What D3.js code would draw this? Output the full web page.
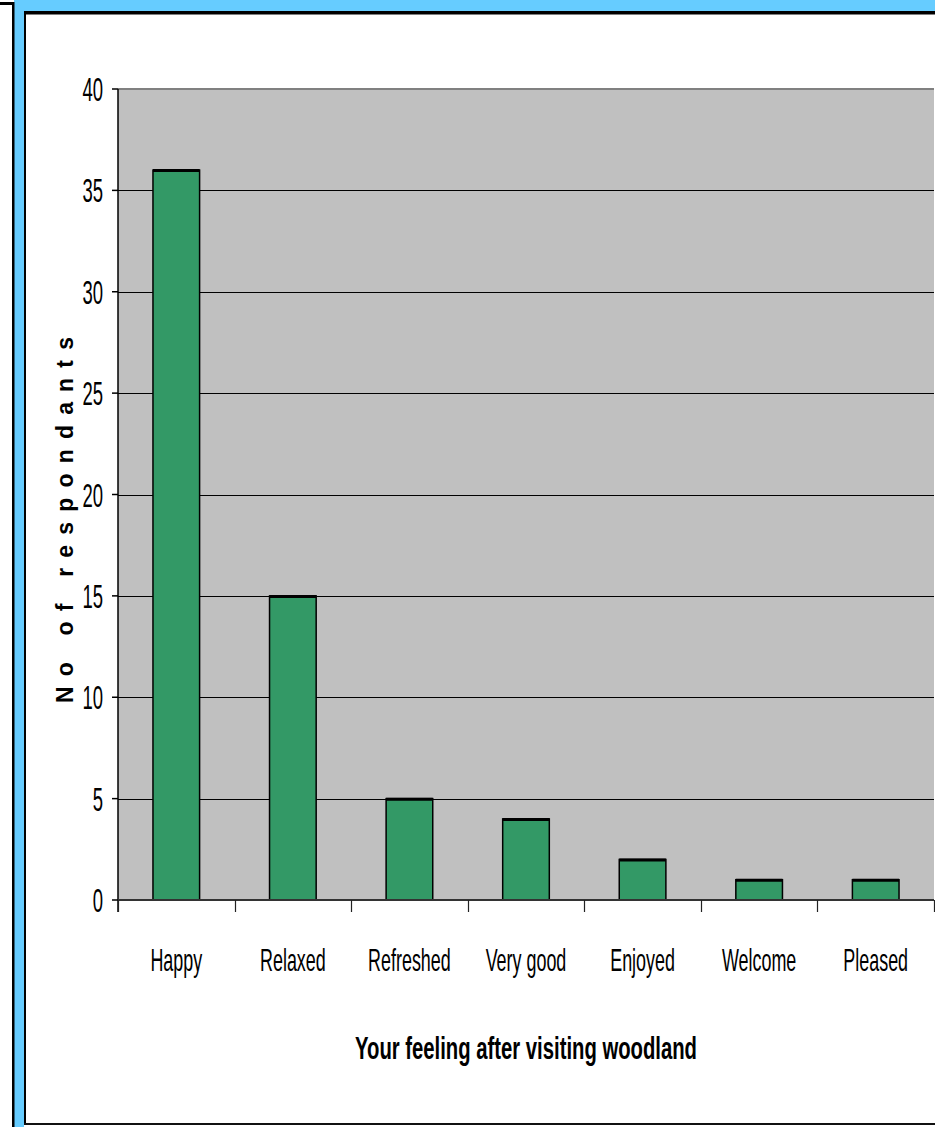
<!DOCTYPE html>
<html>
<head>
<meta charset="utf-8">
<script src="https://cdn.jsdelivr.net/npm/d3@7"></script>
<style>
  html, body { margin: 0; padding: 0; background: #fff; }
  svg { display: block; }
</style>
</head>
<body>
<svg id="chart" width="935" height="1127"></svg>
<script>
// Survey responses: feeling after visiting woodland
const categories = ["Happy", "Relaxed", "Refreshed", "Very good", "Enjoyed", "Welcome", "Pleased"];
const counts = [36, 15, 5, 4, 2, 1, 1];
const yTicks = [0, 5, 10, 15, 20, 25, 30, 35, 40];
const yTitle = "No of respondants";
const xTitle = "Your feeling after visiting woodland";

const W = 935, H = 1127;
const svg = d3.select("#chart");

// Page frame: blue band with black rules, white sheet inside
svg.append("rect").attr("x", 0).attr("y", 0).attr("width", W).attr("height", H).attr("fill", "#ffffff");
svg.append("rect").attr("x", 14).attr("y", 0).attr("width", W - 14).attr("height", 11).attr("fill", "#66ccff");
svg.append("rect").attr("x", 14).attr("y", 0).attr("width", 10).attr("height", H).attr("fill", "#66ccff");
svg.append("rect").attr("x", 0).attr("y", 2).attr("width", 14).attr("height", 3).attr("fill", "#000");
svg.append("rect").attr("x", 12).attr("y", 2).attr("width", 2.5).attr("height", H).attr("fill", "#000");
// inner sheet border
svg.append("rect").attr("x", 24).attr("y", 11).attr("width", 2).attr("height", 1114).attr("fill", "#000");
svg.append("rect").attr("x", 24).attr("y", 11).attr("width", W - 24).attr("height", 3.5).attr("fill", "#000");
svg.append("rect").attr("x", 24).attr("y", 1123).attr("width", W - 24).attr("height", 2).attr("fill", "#111");

// Plot area
const plot = { left: 118, right: 934, top: 89, bottom: 900 };

const x = d3.scaleBand()
  .domain(categories)
  .range([plot.left, plot.right])
  .paddingInner(0.6)
  .paddingOuter(0.3);

const xEdge = d3.scaleLinear().domain([0, categories.length]).range([plot.left, plot.right]);

const y = d3.scaleLinear().domain([0, 40]).range([plot.bottom, plot.top]);

// gray plot background
svg.append("rect")
  .attr("x", plot.left).attr("y", plot.top)
  .attr("width", plot.right - plot.left).attr("height", plot.bottom - plot.top)
  .attr("fill", "#c0c0c0");
// top border of plot area
svg.append("line")
  .attr("x1", plot.left).attr("x2", plot.right)
  .attr("y1", plot.top).attr("y2", plot.top)
  .attr("stroke", "#808080").attr("stroke-width", 2);

// horizontal gridlines
svg.append("g").selectAll("line")
  .data(yTicks.filter(d => d > 0 && d < 40))
  .join("line")
  .attr("x1", plot.left).attr("x2", plot.right)
  .attr("y1", d => Math.round(y(d)) + 0.5).attr("y2", d => Math.round(y(d)) + 0.5)
  .attr("stroke", "#000").attr("stroke-width", 1);

// bars
const bars = svg.append("g");
bars.selectAll("rect")
  .data(counts)
  .join("rect")
  .attr("x", (d, i) => x(categories[i]))
  .attr("y", d => y(d))
  .attr("width", x.bandwidth())
  .attr("height", d => plot.bottom - y(d))
  .attr("fill", "#339966")
  .attr("stroke", "#000")
  .attr("stroke-width", 1.5);
bars.selectAll("line")
  .data(counts)
  .join("line")
  .attr("x1", (d, i) => x(categories[i]))
  .attr("x2", (d, i) => x(categories[i]) + x.bandwidth())
  .attr("y1", d => y(d) + 0.5)
  .attr("y2", d => y(d) + 0.5)
  .attr("stroke", "#000")
  .attr("stroke-width", 3);

// y axis
const yAxis = svg.append("g").attr("transform", `translate(${plot.left},0)`);
yAxis.append("line")
  .attr("x1", 0).attr("x2", 0).attr("y1", plot.top).attr("y2", plot.bottom + 12)
  .attr("stroke", "#000").attr("stroke-width", 1.5);
yAxis.selectAll("line.tick")
  .data(yTicks)
  .join("line")
  .attr("class", "tick")
  .attr("x1", -6).attr("x2", 0)
  .attr("y1", d => y(d)).attr("y2", d => y(d))
  .attr("stroke", "#000").attr("stroke-width", 1.5);
yAxis.selectAll("text")
  .data(yTicks)
  .join("text")
  .attr("transform", d => `translate(-15,${y(d) + 12}) scale(0.56,1)`)
  .attr("text-anchor", "end")
  .attr("font-family", "Liberation Sans, Arial, sans-serif")
  .attr("font-size", 33)
  .attr("fill", "#000")
  .text(d => d);

// x axis
svg.append("line")
  .attr("x1", plot.left).attr("x2", plot.right)
  .attr("y1", plot.bottom).attr("y2", plot.bottom)
  .attr("stroke", "#333").attr("stroke-width", 2);
svg.append("g").selectAll("line")
  .data(d3.range(categories.length + 1))
  .join("line")
  .attr("x1", d => Math.round(xEdge(d)) + 0.5).attr("x2", d => Math.round(xEdge(d)) + 0.5)
  .attr("y1", plot.bottom).attr("y2", plot.bottom + 12)
  .attr("stroke", "#222").attr("stroke-width", 1.2);
svg.append("g").selectAll("text")
  .data(categories)
  .join("text")
  .attr("transform", d => `translate(${x(d) + x.bandwidth() / 2},971) scale(0.56,1)`)
  .attr("text-anchor", "middle")
  .attr("font-family", "Liberation Sans, Arial, sans-serif")
  .attr("font-size", 32)
  .attr("fill", "#000")
  .text(d => d);

// axis titles
svg.append("text")
  .attr("transform", "translate(73,520) rotate(-90)")
  .attr("text-anchor", "middle")
  .attr("font-family", "Liberation Sans, Arial, sans-serif")
  .attr("font-weight", "bold")
  .attr("font-size", 23)
  .attr("textLength", 366)
  .attr("lengthAdjust", "spacing")
  .attr("fill", "#000")
  .text(yTitle);

svg.append("text")
  .attr("x", 526).attr("y", 1059)
  .attr("text-anchor", "middle")
  .attr("font-family", "Liberation Sans, Arial, sans-serif")
  .attr("font-weight", "bold")
  .attr("font-size", 32)
  .attr("textLength", 342)
  .attr("lengthAdjust", "spacingAndGlyphs")
  .attr("fill", "#000")
  .text(xTitle);
</script>
</body>
</html>
